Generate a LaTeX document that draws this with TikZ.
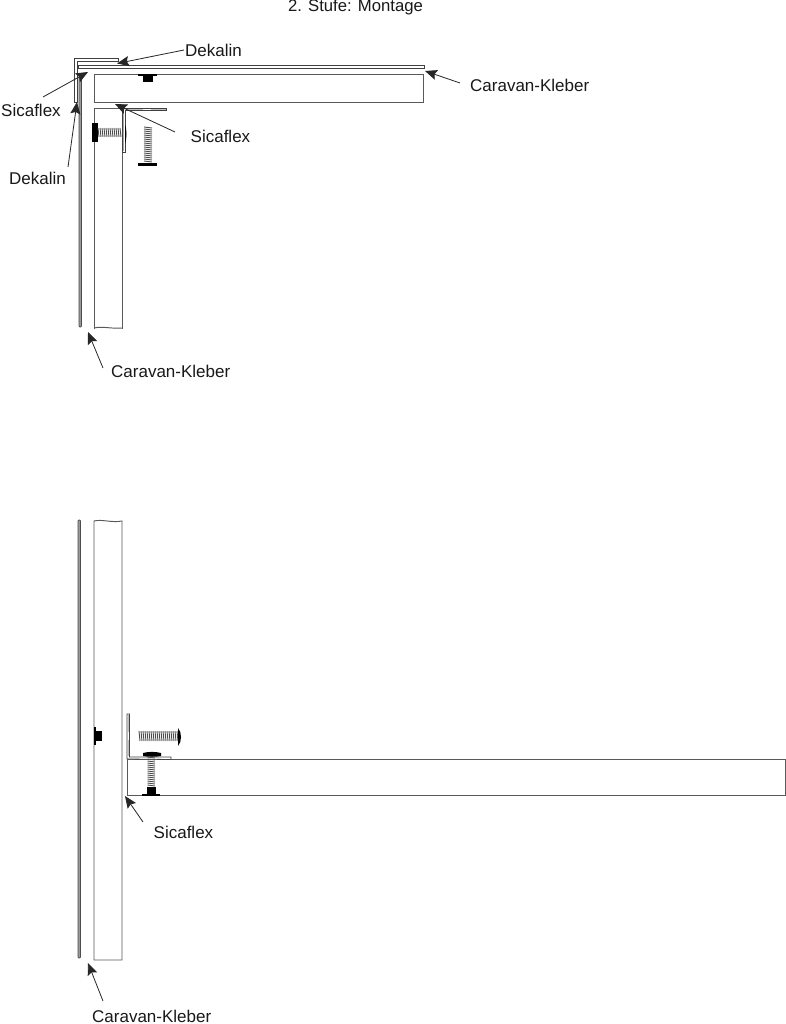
\documentclass[tikz,border=0pt]{standalone}
\usepackage{fontspec}
\setmainfont{Liberation Sans}
\usetikzlibrary{arrows.meta}
\tikzset{
  kante/.style={line width=0.95pt,black!65},
  blech/.style={line width=0.8pt,black!75,fill=white},
  folie/.style={line width=0.7pt,black!70,fill=black!40,rounded corners=0.8pt},
  gewinde/.style={line width=0.9pt,black!70},
  schwarz/.style={fill=black,draw=none},
  pfeil/.style={-{Stealth[length=12pt,width=10pt,inset=2pt]},line width=0.8pt,black!85},
  txt/.style={inner sep=1pt,font=\fontsize{17}{19}\selectfont,text=black!90}
}
\begin{document}
\begin{tikzpicture}[x=1pt,y=-1pt]
\useasboundingbox (0,0) rectangle (786,1024);
\fill[white] (0,0) rectangle (786,1024);
\node[txt,font=\fontsize{16.7}{19}\selectfont] (titel) at (355.5,7) {2. Stufe: Montage};
%oben: tafeln
\draw[kante] (94,74) rectangle (423,102);
\draw[kante] (94,329) -- (94,108) -- (122,108) -- (122,329);
\draw[kante] (94,328) .. controls (102,326) and (112,329) .. (122,328);
%oben: folien
\draw[folie] (79,77) rectangle (81.5,327);
\draw[blech] (78,65.8) rectangle (424.5,68.2);
%oben: winkel aussen
\draw[blech] (118,58) -- (74.5,58) -- (74.5,102) -- (77.8,102) -- (77.8,61) -- (118,61) -- cycle;
%oben: winkel innen
\draw[blech] (122,108) -- (166,108) -- (166,110.5) -- (125,110.5) -- (125,152) -- (122,152) -- cycle;
\fill[black!35] (122.6,111) rectangle (124.4,151);
\fill[black!25] (125.5,108.6) rectangle (165.5,110);
\fill[white] (143,108.6) rectangle (151,110);
%oben: mutter
\fill[schwarz] (138,74) rectangle (157,76);
\fill[schwarz] (142.5,74) rectangle (152.5,82);
%oben: schraube waagerecht
\fill[schwarz] (92,123) rectangle (98,142);
\foreach \x in {98,100,...,121}
  \draw[gewinde] (\x,128) -- (\x+1,137);
\fill[schwarz] (125,124) .. controls (127,130) and (127,138) .. (125,144) -- cycle;
%oben: schraube lose
\foreach \y in {127,129,...,162}
  \draw[gewinde] (144,\y) -- (152,\y+1);
\fill[schwarz] (138,163.5) rectangle (157,166);
%unten: tafeln
\draw[kante] (94,960) -- (94,521) .. controls (102,519) and (112,523) .. (122,521) -- (122,960) -- cycle;
\draw[kante] (127,759) rectangle (785,795);
%unten: folie
\draw[folie] (78,520) rectangle (80.5,958);
%unten: mutter
\fill[schwarz] (93.5,727) rectangle (95.5,745);
\fill[schwarz] (95.5,731) rectangle (102,741);
%unten: winkel
\draw[blech] (127,759) -- (127,714) -- (129.5,714) -- (129.5,757) -- (171,757) -- (171,759.5) -- cycle;
\fill[black!25] (127.6,714.6) rectangle (129,756);
\fill[white] (127.6,732) rectangle (129,740);
%unten: schraube lose
\foreach \x in {139,141,...,177}
  \draw[gewinde] (\x,731) -- (\x+1,741);
\fill[schwarz] (178,728) .. controls (182,732) and (182,742) .. (178,746) -- cycle;
%unten: schraube senkrecht
\fill[schwarz] (143,753) .. controls (148,751.5) and (156,751.5) .. (161,753) -- (161,756) .. controls (156,757) and (148,757) .. (143,756) -- cycle;
\foreach \y in {757,759,...,786}
  \draw[gewinde] (147.5,\y) -- (155,\y+1);
\fill[schwarz] (146.5,787) rectangle (155.5,794);
\fill[schwarz] (142,794) rectangle (160,795.5);
%texte
\node[txt,anchor=west] (dekalinA) at (184,50) {Dekalin};
\node[txt,anchor=west] (sicaA) at (0,110) {Sicaflex};
\node[txt,anchor=west] (dekalinB) at (8,178) {Dekalin};
\node[txt,anchor=west] (sicaB) at (189.5,136) {Sicaflex};
\node[txt,anchor=west] (kleberA) at (469,85) {Caravan-Kleber};
\node[txt,anchor=west] (kleberB) at (110,371) {Caravan-Kleber};
\node[txt,anchor=west] (sicaC) at (152.5,832) {Sicaflex};
\node[txt,anchor=west] (kleberC) at (91,1016) {Caravan-Kleber};
%pfeile
\coordinate (fussSicaA) at (43,97);
\coordinate (fussDekB) at (68,167);
\coordinate (fussSicaB) at (175,132);
\coordinate (fussKlebA) at (460,83);
\coordinate (fussKlebB) at (103,368);
\coordinate (fussSicaC) at (143,822);
\coordinate (fussKlebC) at (103,1001);
\coordinate (spitzeDekA) at (117,63.5);
\coordinate (spitzeSicaA) at (88,72);
\coordinate (spitzeDekB) at (77,102);
\coordinate (spitzeSicaB) at (115,104);
\coordinate (spitzeKlebA) at (425,71);
\coordinate (spitzeKlebB) at (88,332);
\coordinate (spitzeSicaC) at (125,796);
\coordinate (spitzeKlebC) at (88,963);
\draw[pfeil] (dekalinA.west) -- (spitzeDekA);
\draw[pfeil] (fussSicaA) -- (spitzeSicaA);
\draw[pfeil] (fussDekB) -- (spitzeDekB);
\draw[pfeil] (fussSicaB) -- (spitzeSicaB);
\draw[pfeil] (fussKlebA) -- (spitzeKlebA);
\draw[pfeil] (fussKlebB) -- (spitzeKlebB);
\draw[pfeil] (fussSicaC) -- (spitzeSicaC);
\draw[pfeil] (fussKlebC) -- (spitzeKlebC);
\end{tikzpicture}
\end{document}
